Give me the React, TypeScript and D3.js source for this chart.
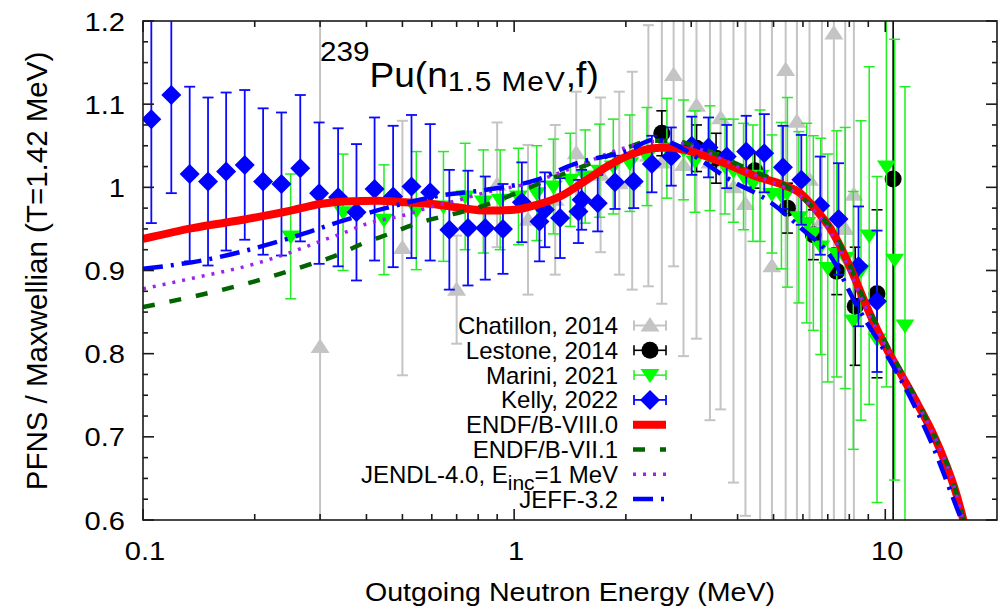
import React from "react";
import * as d3 from "d3";

// ---------- measurements (ratio to a T=1.42 MeV Maxwellian) ----------
const chatillonE = [0.30, 0.50, 0.70, 0.90, 1.09, 1.29, 1.47, 1.71, 1.92, 2.08, 2.30, 2.50, 2.69, 2.86, 3.10, 3.37, 3.60, 3.90, 4.20, 4.60, 4.95, 5.39, 5.78, 6.25, 6.75, 7.27, 7.80, 8.23];
const chatillonY = [0.808, 0.927, 0.877, 1.003, 0.961, 0.985, 1.041, 1.015, 1.005, 1.008, 1.038, 1.030, 1.135, 1.027, 1.098, 1.030, 1.083, 1.000, 0.980, 1.020, 0.905, 1.141, 1.079, 1.009, 0.960, 1.185, 0.950, 0.991];
const chatillonErr = [0.70, 0.153, 0.065, 0.075, 0.09, 0.09, 0.074, 0.093, 0.11, 0.131, 0.157, 0.17, 0.23, 0.23, 0.28, 0.31, 0.35, 0.355, 0.375, 0.45, 0.45, 0.55, 0.55, 0.55, 0.6, 0.65, 0.6, 0.6];

const lestoneE = [2.50, 3.10, 3.50, 4.45, 5.45, 6.40, 7.40, 8.30, 9.50, 10.50];
const lestoneY = [1.065, 1.047, 1.035, 1.020, 0.975, 0.943, 0.899, 0.857, 0.872, 1.010];
const lestoneErr = [0.027, 0.028, 0.030, 0.021, 0.030, 0.030, 0.028, 0.071, 0.101, 0.90];

const mariniE = [0.25, 0.346, 0.446, 0.545, 0.645, 0.738, 0.826, 0.917, 1.027, 1.151, 1.276, 1.416, 1.554, 1.70, 1.85, 2.05, 2.28, 2.58, 2.86, 3.07, 3.37, 3.70, 3.90, 4.15, 4.40, 4.60, 4.95, 5.25, 5.45, 5.85, 6.14, 6.40, 6.70, 7.00, 7.40, 7.80, 8.20, 8.60, 9.05, 9.50, 10.07, 10.60, 11.30];
const mariniY = [0.941, 0.970, 0.961, 0.972, 0.977, 0.989, 0.983, 0.985, 0.989, 0.993, 1.001, 1.009, 1.013, 1.020, 1.025, 1.029, 1.037, 1.047, 1.045, 1.031, 1.035, 1.025, 1.020, 1.013, 1.005, 1.014, 0.992, 0.990, 0.994, 0.964, 0.957, 0.945, 0.929, 0.903, 0.920, 0.915, 0.840, 0.900, 0.942, 0.817, 1.025, 0.913, 0.834];
const mariniErr = [0.075, 0.07, 0.066, 0.071, 0.066, 0.064, 0.062, 0.06, 0.058, 0.057, 0.057, 0.056, 0.056, 0.056, 0.057, 0.058, 0.059, 0.06, 0.06, 0.061, 0.063, 0.057, 0.062, 0.064, 0.07, 0.079, 0.071, 0.088, 0.114, 0.103, 0.12, 0.117, 0.13, 0.137, 0.148, 0.157, 0.155, 0.18, 0.203, 0.196, 0.265, 0.265, 0.287];

const kellyE = [0.1053, 0.1192, 0.1336, 0.1497, 0.1675, 0.188, 0.2107, 0.2361, 0.2653, 0.2982, 0.3355, 0.376, 0.4207, 0.472, 0.529, 0.594, 0.669, 0.751, 0.836, 0.933, 1.049, 1.17, 1.21, 1.33, 1.49, 1.52, 1.68, 1.87, 2.10, 2.35, 2.65, 3.01, 3.34, 3.74, 4.22, 4.72, 5.30, 5.94, 6.68, 7.48, 8.47, 9.50];
const kellyY = [1.082, 1.111, 1.016, 1.007, 1.019, 1.027, 1.007, 1.004, 1.023, 0.993, 0.988, 0.970, 0.998, 0.989, 1.001, 0.994, 0.949, 0.951, 0.951, 0.950, 0.982, 0.959, 0.973, 0.963, 0.971, 0.985, 0.981, 1.006, 1.007, 1.028, 1.037, 1.050, 1.048, 1.037, 1.043, 1.041, 1.024, 1.009, 0.978, 0.962, 0.905, 0.863];
const kellyErr = [0.125, 0.118, 0.105, 0.101, 0.095, 0.09, 0.088, 0.086, 0.088, 0.085, 0.083, 0.082, 0.086, 0.085, 0.086, 0.082, 0.072, 0.069, 0.062, 0.054, 0.048, 0.048, 0.045, 0.048, 0.038, 0.036, 0.034, 0.032, 0.032, 0.034, 0.035, 0.035, 0.036, 0.038, 0.043, 0.047, 0.05, 0.054, 0.059, 0.067, 0.072, 0.085];

// ---------- evaluated spectra ----------
const endf80E = [0.1, 0.136, 0.186, 0.25, 0.3, 0.35, 0.43, 0.51, 0.6, 0.7, 0.85, 1.0, 1.15, 1.33, 1.57, 1.78, 2.05, 2.37, 2.6, 2.95, 3.4, 3.7, 4.5, 5.3, 5.9, 6.5, 7.1, 7.7, 8.2, 9.0, 10.0, 11.0, 12.3, 13.5, 14.6, 15.5, 16.3];
const endf80Y = [0.938, 0.951, 0.961, 0.972, 0.980, 0.983, 0.984, 0.982, 0.980, 0.976, 0.972, 0.973, 0.979, 0.989, 1.009, 1.025, 1.039, 1.047, 1.048, 1.044, 1.035, 1.029, 1.013, 1.003, 0.993, 0.973, 0.951, 0.922, 0.895, 0.852, 0.809, 0.776, 0.737, 0.702, 0.666, 0.633, 0.597];

const endf71E = [0.1, 0.2, 0.28, 0.34, 0.384, 0.454, 0.57, 0.643, 0.76, 0.89, 1.05, 1.25, 1.45, 1.71, 2.0, 2.35, 2.7, 3.1, 3.5, 3.85, 4.5, 5.3, 6.1, 6.7, 7.3, 8.0, 8.6, 9.5, 10.3, 11.4, 12.6, 14.0, 15.0, 15.6, 16.3];
const endf71Y = [0.856, 0.887, 0.907, 0.920, 0.931, 0.943, 0.959, 0.965, 0.973, 0.983, 0.996, 1.010, 1.021, 1.034, 1.047, 1.056, 1.056, 1.049, 1.040, 1.031, 1.018, 1.004, 0.984, 0.966, 0.944, 0.908, 0.873, 0.834, 0.803, 0.767, 0.731, 0.688, 0.656, 0.630, 0.597];

const jendlE = [0.1, 0.137, 0.2, 0.247, 0.3, 0.346, 0.4, 0.52, 0.59, 0.7, 0.84, 1.1, 1.47, 1.94, 2.4, 2.8, 3.2, 3.7, 4.5, 5.3, 5.9, 6.5, 7.1, 7.7, 8.5, 9.2, 10.3, 11.4, 12.6, 14.0, 15.0, 15.6, 16.3];
const jendlY = [0.878, 0.891, 0.908, 0.921, 0.935, 0.945, 0.956, 0.968, 0.976, 0.984, 0.994, 1.005, 1.025, 1.046, 1.055, 1.053, 1.045, 1.032, 1.014, 1.001, 0.990, 0.970, 0.947, 0.918, 0.873, 0.840, 0.800, 0.766, 0.729, 0.687, 0.654, 0.628, 0.595];

const jeffE = [0.1, 0.148, 0.249, 0.346, 0.45, 0.63, 0.84, 1.15, 1.45, 2.05, 2.37, 2.7, 3.1, 3.85, 4.8, 6.0, 7.1, 8.4, 10.2, 11.9, 13.4, 15.3, 16.2];
const jeffY = [0.902, 0.913, 0.939, 0.960, 0.975, 0.990, 0.997, 1.009, 1.028, 1.045, 1.057, 1.052, 1.036, 1.008, 0.985, 0.949, 0.918, 0.857, 0.795, 0.740, 0.690, 0.624, 0.595];

// ---------- axis ticks ----------
const yMajorTicks = [0.6, 0.7, 0.8, 0.9, 1.0, 1.1, 1.2];
const yTickLabels = ["0.6", "0.7", "0.8", "0.9", "1", "1.1", "1.2"];
const xMajorTicks = [0.1, 1, 10];
const xTickLabels = ["0.1", "1", "10"];
const xMinorTicks = [0.2, 0.3, 0.4, 0.5, 0.6, 0.7, 0.8, 0.9, 2, 3, 4, 5, 6, 7, 8, 9];

const FONT = "'Liberation Sans', Arial, Helvetica, sans-serif";

type Marker = "up" | "down" | "diamond" | "circle";

function markerShape(kind: Marker, cx: number, cy: number, fill: string, key?: string | number) {
  if (kind === "circle") return <circle key={key} cx={cx} cy={cy} r={8.5} fill={fill} />;
  let pts: [number, number][];
  if (kind === "up") pts = [[0, -8.5], [9.5, 6], [-9.5, 6]];
  else if (kind === "down") pts = [[0, 8], [9.5, -6], [-9.5, -6]];
  else pts = [[0, -10], [10, 0], [0, 10], [-10, 0]];
  const d = "M" + pts.map(([a, b]) => `${cx + a},${cy + b}`).join("L") + "Z";
  return <path key={key} d={d} fill={fill} />;
}

function STxt(props: {
  x: number; y: number; size: number; sx?: number; anchor?: string; children: React.ReactNode; rotate?: number;
}) {
  const { x, y, size, sx = 1, anchor = "middle", children, rotate = 0 } = props;
  return (
    <text
      transform={`translate(${x},${y}) rotate(${rotate}) scale(${sx},1)`}
      textAnchor={anchor as any}
      fontSize={size}
      fontFamily={FONT}
      fill="#000"
    >
      {children}
    </text>
  );
}

export default function App() {
  const x = d3.scaleLog().domain([0.1, 20]).range([143, 997]);
  const y = d3.scaleLinear().domain([0.6, 1.2]).range([520, 21]);
  const [x0, x1] = x.range();
  const [y0, y1] = y.range(); // y0 bottom, y1 top

  const line = d3
    .line<[number, number]>()
    .x((d) => x(d[0]))
    .y((d) => y(d[1]))
    .curve(d3.curveMonotoneX);

  const zip = (a: number[], b: number[]) => a.map((v, i) => [v, b[i]] as [number, number]);

  const yMinor = d3.range(0.6, 1.2001, 0.025).filter((v) => Math.abs(v * 10 - Math.round(v * 10)) > 1e-6);

  const series = [
    { E: chatillonE, V: chatillonY, Err: chatillonErr, color: "#c4c4c4", mk: "up" as Marker, sw: 2 },
    { E: lestoneE, V: lestoneY, Err: lestoneErr, color: "#000000", mk: "circle" as Marker, sw: 1.6 },
    { E: mariniE, V: mariniY, Err: mariniErr, color: "#22ee22", mk: "down" as Marker, sw: 1.5 },
    { E: kellyE, V: kellyY, Err: kellyErr, color: "#0a0aff", mk: "diamond" as Marker, sw: 1.8 },
  ];
  const markerFill = ["#c4c4c4", "#000000", "#00ff00", "#0000ff"];

  const curves = [
    { E: endf80E, V: endf80Y, color: "#ff0000", w: 8, dash: "none" },
    { E: endf71E, V: endf71Y, color: "#006400", w: 4.5, dash: "12,15" },
    { E: jendlE, V: jendlY, color: "#a020f0", w: 3.5, dash: "3,7" },
    { E: jeffE, V: jeffY, color: "#0000ff", w: 4.5, dash: "20,8,3,8" },
  ];

  const legendNames = ["Chatillon, 2014", "Lestone, 2014", "Marini, 2021", "Kelly, 2022", "ENDF/B-VIII.0", "ENDF/B-VII.1", "JENDL-4.0", "JEFF-3.2"];
  const legendY0 = 325.5;
  const legendStep = 24.8;
  const capW = 5.5;

  return (
    <svg width={1008} height={612} style={{ position: "fixed", left: 0, top: 0, background: "#fff" }}>
      <rect x={0} y={0} width={1008} height={612} fill="#fff" />
      <defs>
        <clipPath id="plotArea">
          <rect x={x0} y={y1} width={x1 - x0} height={y0 - y1} />
        </clipPath>
      </defs>

      <g clipPath="url(#plotArea)">
        {series.map((s, si) => (
          <g key={si} stroke={s.color} strokeWidth={s.sw}>
            {s.E.map((e, i) => {
              const cx = x(e);
              const top = y(s.V[i] + s.Err[i]);
              const bot = y(s.V[i] - s.Err[i]);
              return (
                <g key={i}>
                  <line x1={cx} x2={cx} y1={top} y2={bot} />
                  <line x1={cx - capW} x2={cx + capW} y1={top} y2={top} />
                  <line x1={cx - capW} x2={cx + capW} y1={bot} y2={bot} />
                  <g stroke="none">{markerShape(s.mk, cx, y(s.V[i]), markerFill[si])}</g>
                </g>
              );
            })}
          </g>
        ))}
        {curves.map((c, ci) => (
          <path
            key={ci}
            d={line(zip(c.E, c.V)) || ""}
            fill="none"
            stroke={c.color}
            strokeWidth={c.w}
            strokeDasharray={c.dash}
            strokeLinecap="butt"
            strokeLinejoin="round"
          />
        ))}
      </g>

      {/* frame and ticks */}
      <g stroke="#1a1a1a" strokeWidth={1.6}>
        <rect x={x0} y={y1} width={x1 - x0} height={y0 - y1} fill="none" />
        {yMajorTicks.map((v) => (
          <g key={"ym" + v}>
            <line x1={x0} x2={x0 + 11} y1={y(v)} y2={y(v)} />
            <line x1={x1} x2={x1 - 11} y1={y(v)} y2={y(v)} />
          </g>
        ))}
        {yMinor.map((v) => (
          <g key={"yn" + v}>
            <line x1={x0} x2={x0 + 5} y1={y(v)} y2={y(v)} />
            <line x1={x1} x2={x1 - 5} y1={y(v)} y2={y(v)} />
          </g>
        ))}
        {xMajorTicks.map((v) => (
          <g key={"xm" + v}>
            <line x1={x(v)} x2={x(v)} y1={y0} y2={y0 - 11} />
            <line x1={x(v)} x2={x(v)} y1={y1} y2={y1 + 11} />
          </g>
        ))}
        {xMinorTicks.map((v) => (
          <g key={"xn" + v}>
            <line x1={x(v)} x2={x(v)} y1={y0} y2={y0 - 6} />
            <line x1={x(v)} x2={x(v)} y1={y1} y2={y1 + 6} />
          </g>
        ))}
      </g>

      {/* tick labels */}
      {yMajorTicks.map((v, i) => (
        <STxt key={"yl" + v} x={125} y={y(v) + 9.5} size={26} sx={1.12} anchor="end">
          {yTickLabels[i]}
        </STxt>
      ))}
      {xMajorTicks.map((v, i) => (
        <STxt key={"xl" + v} x={x(v) + 2} y={560} size={26} sx={1.12} anchor="middle">
          {xTickLabels[i]}
        </STxt>
      ))}

      {/* axis titles */}
      <STxt x={570} y={601} size={26} sx={1.1}>
        Outgoing Neutron Energy (MeV)
      </STxt>
      <STxt x={47} y={271} size={29.5} rotate={-90}>
        PFNS / Maxwellian (T=1.42 MeV)
      </STxt>

      {/* reaction label */}
      <text transform="translate(320,87) scale(1.06,1)" fontFamily={FONT} fontSize={35} fill="#000">
        <tspan fontSize={28} dy={-26}>239</tspan>
        <tspan fontSize={35} dy={26}>Pu(n</tspan>
        <tspan fontSize={28} dy={4} letterSpacing={1}>1.5 MeV</tspan>
        <tspan fontSize={35} dy={-4}>,f)</tspan>
      </text>

      {/* legend */}
      <g>
        {legendNames.map((name, i) => {
          const cy = legendY0 + i * legendStep;
          const isJendl = i === 6;
          return (
            <g key={"lg" + i}>
              {isJendl ? (
                <text transform={`translate(618,${cy + 8.5})`} textAnchor="end" fontFamily={FONT} fontSize={24} fill="#000">
                  JENDL-4.0, E<tspan fontSize={21} dy={7}>inc</tspan>
                  <tspan dy={-7}>=1 MeV</tspan>
                </text>
              ) : (
                <STxt x={618} y={cy + 8.5} size={24} anchor="end">
                  {name}
                </STxt>
              )}
            </g>
          );
        })}
        {series.map((s, si) => {
          const cy = legendY0 + si * legendStep;
          return (
            <g key={"ls" + si} stroke={s.color} strokeWidth={s.sw}>
              <line x1={634} x2={666} y1={cy} y2={cy} />
              <line x1={634} x2={634} y1={cy - 5} y2={cy + 5} />
              <line x1={666} x2={666} y1={cy - 5} y2={cy + 5} />
              <g stroke="none">{markerShape(s.mk, 650, cy, markerFill[si])}</g>
            </g>
          );
        })}
        {curves.map((c, ci) => {
          const cy = legendY0 + (ci + 4) * legendStep;
          return (
            <line
              key={"lc" + ci}
              x1={633}
              x2={666}
              y1={cy}
              y2={cy}
              stroke={c.color}
              strokeWidth={c.w}
              strokeDasharray={c.dash}
            />
          );
        })}
      </g>
    </svg>
  );
}
